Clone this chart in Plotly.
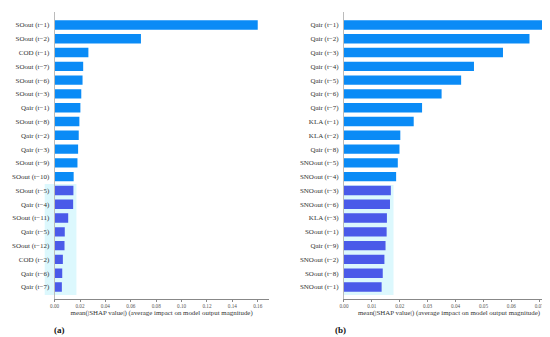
import plotly.graph_objects as go

# ---- data ----
labels_a = ["SOout (t−1)", "SOout (t−2)", "COD (t−1)", "SOout (t−7)", "SOout (t−6)",
            "SOout (t−3)", "Qair (t−1)", "SOout (t−8)", "Qair (t−2)", "Qair (t−3)",
            "SOout (t−9)", "SOout (t−10)", "SOout (t−5)", "Qair (t−4)", "SOout (t−11)",
            "Qair (t−5)", "SOout (t−12)", "COD (t−2)", "Qair (t−6)", "Qair (t−7)"]
values_a = [0.160, 0.068, 0.0266, 0.0225, 0.0220, 0.0210, 0.0203, 0.0195, 0.0190, 0.0185,
            0.0180, 0.0150, 0.0148, 0.0146, 0.0107, 0.0080, 0.0078, 0.0065, 0.0060, 0.0057]

labels_b = ["Qair (t−1)", "Qair (t−2)", "Qair (t−3)", "Qair (t−4)", "Qair (t−5)",
            "Qair (t−6)", "Qair (t−7)", "KLA (t−1)", "KLA (t−2)", "Qair (t−8)",
            "SNOout (t−5)", "SNOout (t−4)", "SNOout (t−3)", "SNOout (t−6)", "KLA (t−3)",
            "SOout (t−1)", "Qair (t−9)", "SNOout (t−2)", "SOout (t−8)", "SNOout (t−1)"]
values_b = [0.0721, 0.0665, 0.0570, 0.0466, 0.0420, 0.0350, 0.0280, 0.0250, 0.0202, 0.0199,
            0.0193, 0.0187, 0.0168, 0.0165, 0.0154, 0.0153, 0.0149, 0.0145, 0.0139, 0.0135]

ticks_a = [0.00, 0.02, 0.04, 0.06, 0.08, 0.10, 0.12, 0.14, 0.16]
ticks_b = [0.00, 0.01, 0.02, 0.03, 0.04, 0.05, 0.06, 0.07]

n_bright = 12  # rows drawn in the bright blue
BLUE = "#0a8bf6"
PURPLE = "#4a5ae9"
CYAN = "#dcf8fd"
FONT = "Liberation Serif"

W, H = 550, 337

def px(x):
    return x / W

def py(y):
    return (H - y) / H

fig = go.Figure()

for idx, (labels, values) in enumerate([(labels_a, values_a), (labels_b, values_b)]):
    xa = "x" if idx == 0 else "x2"
    ya = "y" if idx == 0 else "y2"
    colors = [BLUE] * n_bright + [PURPLE] * (len(values) - n_bright)
    fig.add_trace(go.Bar(
        x=values, y=list(range(len(values))), orientation="h",
        marker=dict(color=colors, line=dict(width=0)),
        width=0.68, xaxis=xa, yaxis=ya, showlegend=False,
        hoverinfo="x+text", text=labels, textposition="none",
    ))

ydom = [py(291), py(4)]
yrange = [19.87, -0.94]
tickfont = dict(family=FONT, size=5.2, color="#555")
labfont = dict(family=FONT, size=7.0, color="#333")
title_text = "mean(|SHAP value|) (average impact on model output magnitude)"

common_x = dict(showgrid=False, zeroline=False, showline=True, linecolor="#888",
                linewidth=0.8, ticks="outside", ticklen=2, tickcolor="#888",
                tickformat=".2f", tickfont=tickfont,
                title=dict(text=title_text, font=dict(family=FONT, size=6.9, color="#333"),
                           standoff=2))
common_y = dict(domain=ydom, range=yrange, showgrid=False, zeroline=False,
                showline=True, linecolor="#bbb", linewidth=0.8, ticks="",
                tickfont=labfont, ticklabelstandoff=3)

fig.update_layout(
    width=W, height=H, margin=dict(l=0, r=0, t=0, b=0),
    paper_bgcolor="white", plot_bgcolor="rgba(0,0,0,0)",
    bargap=0.3,
    xaxis=dict(domain=[px(42), px(258)], range=[0, 0.1686], tickvals=ticks_a,
               anchor="y", **common_x),
    xaxis2=dict(domain=[px(334), px(546)], range=[0, 0.0753], tickvals=ticks_b,
                anchor="y2", **common_x),
    yaxis=dict(anchor="x", tickvals=list(range(len(labels_a))), ticktext=labels_a, **common_y),
    yaxis2=dict(anchor="x2", tickvals=list(range(len(labels_b))), ticktext=labels_b, **common_y),
    shapes=[
        dict(type="rect", xref="paper", yref="paper", x0=px(32), x1=px(64),
             y0=py(287), y1=py(176), fillcolor=CYAN, line=dict(width=0), layer="below"),
        dict(type="rect", xref="paper", yref="paper", x0=px(333), x1=px(384),
             y0=py(287), y1=py(177), fillcolor=CYAN, line=dict(width=0), layer="below"),
    ],
    annotations=[
        dict(text="<b>(a)</b>", xref="paper", yref="paper", x=px(47), y=py(322),
             showarrow=False, xanchor="center", yanchor="middle",
             font=dict(family=FONT, size=9, color="#111")),
        dict(text="<b>(b)</b>", xref="paper", yref="paper", x=px(331), y=py(322),
             showarrow=False, xanchor="center", yanchor="middle",
             font=dict(family=FONT, size=9, color="#111")),
    ],
)

fig.write_html("out.html")
